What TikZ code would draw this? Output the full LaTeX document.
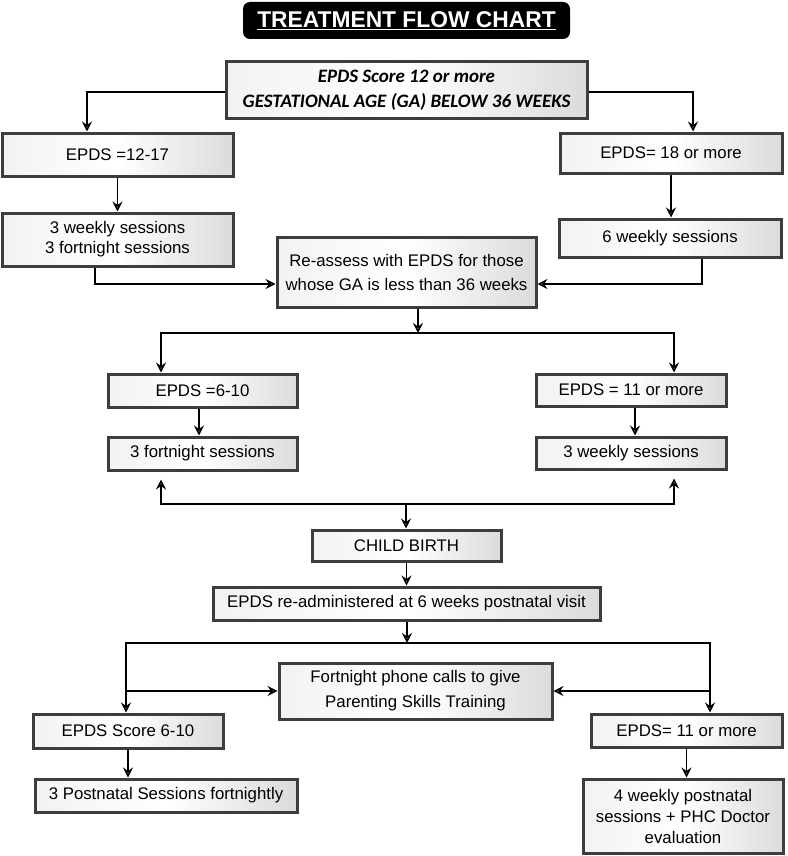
\documentclass[tikz,border=0pt]{standalone}
\usepackage{fontspec}
\setmainfont{Liberation Sans}
\newfontfamily\calibri{Carlito}
\usepackage{tikz}
\usetikzlibrary{arrows.meta, positioning, calc}

\begin{document}
\begin{tikzpicture}[x=1pt, y=1pt,
    box/.style={draw=black!76, line width=3pt, left color=gray!10, right color=gray!28, middle color=white,
        align=center, inner sep=0pt, font=\fontsize{16.8}{20}\selectfont},
    titlebox/.style={fill=black, rounded corners=7pt, text=white, inner sep=0pt,
        font=\fontsize{22.8}{26}\selectfont\bfseries},
    arr/.style={-{Stealth[open, length=10pt, width=10pt, inset=3.5pt]}, line width=1.5pt},
]
\useasboundingbox (0,0) rectangle (787,-856);

% Title
\node[titlebox, minimum width=327, minimum height=37] (title) at (406.5,-20.5) {\underline{TREATMENT FLOW CHART}};

% Antenatal screening
\node[box, minimum width=361, minimum height=57, font=\calibri\fontsize{19}{25}\selectfont\bfseries\itshape] (ga) at (406.5,-90.5)
    {EPDS Score 12 or more\\GESTATIONAL AGE (GA) BELOW 36 WEEKS};

\node[box, minimum width=231, minimum height=43] (modA) at (117.5,-154.5) {EPDS =12-17};
\node[box, minimum width=231, minimum height=53] (sessA) at (117.5,-239.5) {3 weekly sessions\\3 fortnight sessions};
\node[box, minimum width=222, minimum height=40] (sevB) at (671,-153) {EPDS= 18 or more};
\node[box, minimum width=222, minimum height=38] (sessB) at (670,-238) {6 weekly sessions};

\node[box, minimum width=259, minimum height=70, font=\fontsize{16.8}{24}\selectfont] (reassess) at (406.5,-272)
    {Re-assess with EPDS for those\\whose GA is less than 36 weeks};

% Second assessment
\node[box, minimum width=189, minimum height=33] (lowC) at (202.5,-390.5) {EPDS =6-10};
\node[box, minimum width=189, minimum height=33] (fortC) at (202.5,-453.5) {3 fortnight sessions};
\node[box, minimum width=190, minimum height=32] (highD) at (631,-390) {EPDS = 11 or more};
\node[box, minimum width=190, minimum height=32] (weekD) at (631,-453) {3 weekly sessions};

% Postnatal
\node[box, minimum width=189, minimum height=31] (birth) at (406.5,-545.5) {CHILD BIRTH};
\node[box, minimum width=387, minimum height=33] (readmin) at (406.5,-603.5) {EPDS re-administered at 6 weeks postnatal visit};
\node[box, minimum width=273, minimum height=56, font=\fontsize{16.8}{25}\selectfont] (phone) at (415.5,-691)
    {Fortnight phone calls to give\\Parenting Skills Training};
\node[box, minimum width=190, minimum height=34] (lowE) at (128,-731) {EPDS Score 6-10};
\node[box, minimum width=262, minimum height=33] (postE) at (166,-795.5) {3 Postnatal Sessions fortnightly};
\node[box, minimum width=191, minimum height=33] (highF) at (686.5,-730.5) {EPDS= 11 or more};
\node[box, minimum width=200, minimum height=74, font=\fontsize{16.8}{21}\selectfont] (postF) at (683,-816)
    {4 weekly postnatal\\sessions + PHC Doctor\\evaluation};

% Bus points
\coordinate (busR) at (418,-333);
\coordinate (busB) at (406,-504);
\coordinate (busP) at (407,-643);

% Arrows - antenatal
\draw[arr] ([yshift=-1.5]ga.west) -| ([xshift=-30.5]modA.north);
\draw[arr] ([yshift=-1.5]ga.east) -| ([xshift=22]sevB.north);
\draw[arr] (modA) -- (sessA);
\draw[arr] (sevB.south) -- (sevB.south |- sessB.north);
\draw[arr] ([xshift=-22.5]sessA.south) |- ([yshift=-12]reassess.west);
\draw[arr] ([xshift=32]sessB.south) |- ([yshift=-12]reassess.east);

% Arrows - re-assessment
\draw[arr] (reassess.south -| busR) -- (busR);
\draw[arr] (busR) -| ([xshift=-41.5]lowC.north);
\draw[arr] (busR) -| ([xshift=43]highD.north);
\draw[arr] ([xshift=-3.5]lowC.south) -- ([xshift=-3.5]fortC.north);
\draw[arr] ([xshift=4]highD.south) -- ([xshift=4]weekD.north);
\draw[arr] (busB) -| ([xshift=-41.5,yshift=-8]fortC.south);
\draw[arr] (busB) -| ([xshift=43,yshift=-8]weekD.south);
\draw[arr] (busB) -- (busB |- birth.north);

% Arrows - postnatal
\draw[arr] (birth) -- (readmin);
\draw[arr] (readmin.south -| busP) -- (busP);
\draw[arr] (busP) -| ([xshift=-2]lowE.north);
\draw[arr] (busP) -| ([xshift=23.5]highF.north);
\draw[arr] ([xshift=-2]lowE.north |- phone.west) -- (phone.west);
\draw[arr] ([xshift=23.5]highF.north |- phone.east) -- (phone.east);
\draw[arr] (lowE.south) -- (lowE.south |- postE.north);
\draw[arr] (highF.south) -- (highF.south |- postF.north);

\end{tikzpicture}
\end{document}
